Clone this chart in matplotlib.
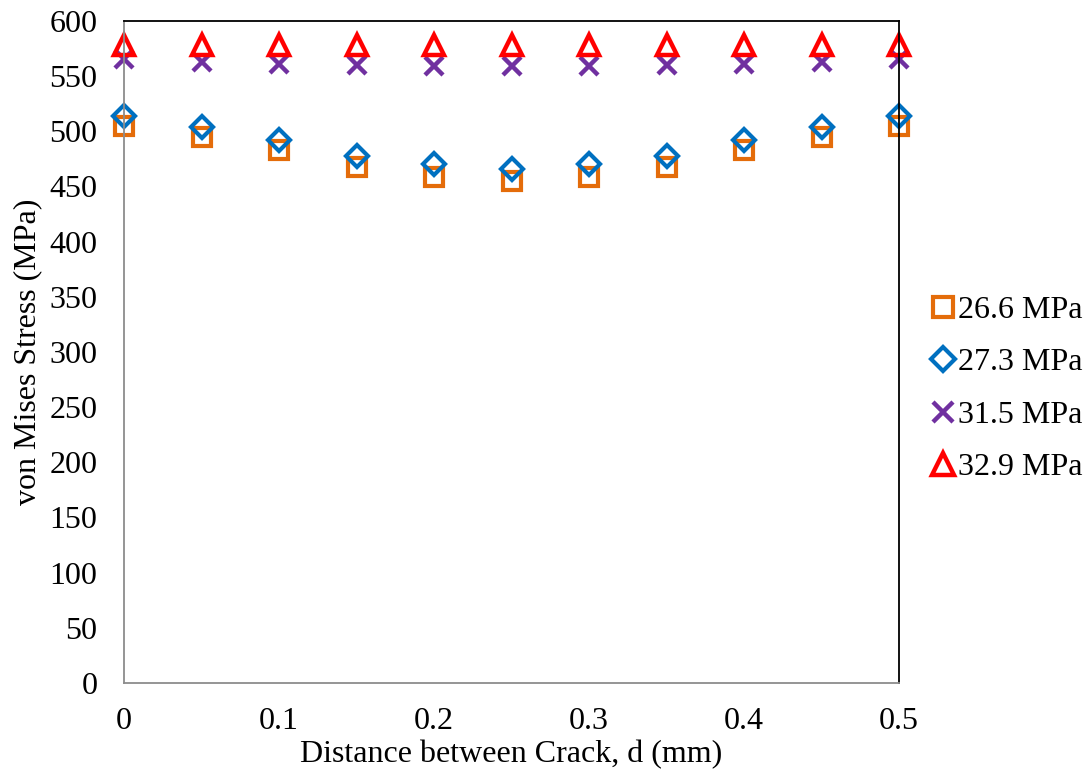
import matplotlib.pyplot as plt

plt.rcParams['font.family'] = ['Liberation Serif', 'DejaVu Serif']

# data
d = [0, 0.05, 0.1, 0.15, 0.2, 0.25, 0.3, 0.35, 0.4, 0.45, 0.5]
s_266 = [505, 495, 483, 468, 459, 455, 459, 468, 483, 495, 505]
s_273 = [514, 504, 492, 478, 470, 466, 470, 478, 492, 504, 514]
s_315 = [566, 563, 561, 560, 559, 559, 559, 560, 561, 563, 566]
s_329 = [578, 578, 578, 578, 578, 578, 578, 578, 578, 578, 578]
labels = ['26.6 MPa', '27.3 MPa', '31.5 MPa', '32.9 MPa']

fig = plt.figure(figsize=(10.92, 7.76), dpi=100)
ax = fig.add_axes([124 / 1092, 1 - 683 / 776, (899 - 124) / 1092, (683 - 21) / 776])

ax.plot(d, s_266, 's', ms=13.5, mfc='none', mec='#E46C0A', mew=3, label=labels[0], clip_on=False)
ax.plot(d, s_273, 'D', ms=11.5, mfc='none', mec='#0070C0', mew=3, label=labels[1], clip_on=False)
ax.plot(d, s_315, 'x', ms=13, mec='#7030A0', mew=3.2, label=labels[2], clip_on=False)
ax.plot(d, s_329, '^', ms=14.5, mfc='none', mec='#FF0000', mew=3.2, label=labels[3], clip_on=False)

ax.set_xlim(0, 0.5)
ax.set_ylim(0, 600)
ax.set_xticks([0, 0.1, 0.2, 0.3, 0.4, 0.5])
ax.set_xticklabels(['0', '0.1', '0.2', '0.3', '0.4', '0.5'])
ax.set_yticks(range(0, 601, 50))
ax.tick_params(length=0, labelsize=23)
ax.tick_params(axis='y', pad=19)
ax.tick_params(axis='x', pad=17)

ax.spines['left'].set_color('#8C8C8C')
ax.spines['bottom'].set_color('#8C8C8C')
ax.spines['top'].set_color('black')
ax.spines['right'].set_color('black')
for sp in ax.spines.values():
    sp.set_linewidth(1.3)

ax.set_xlabel('Distance between Crack, d (mm)', fontsize=23, labelpad=3)
ax.set_ylabel('von Mises Stress (MPa)', fontsize=23, labelpad=5)

fig.legend(loc='center left', bbox_to_anchor=(915 / 1092, 1 - 389 / 776), frameon=False,
           fontsize=23, handlelength=0.75, handletextpad=0.1, labelspacing=0.72, borderpad=0,
           markerscale=1.1)

fig.savefig('out.png', dpi=100)
